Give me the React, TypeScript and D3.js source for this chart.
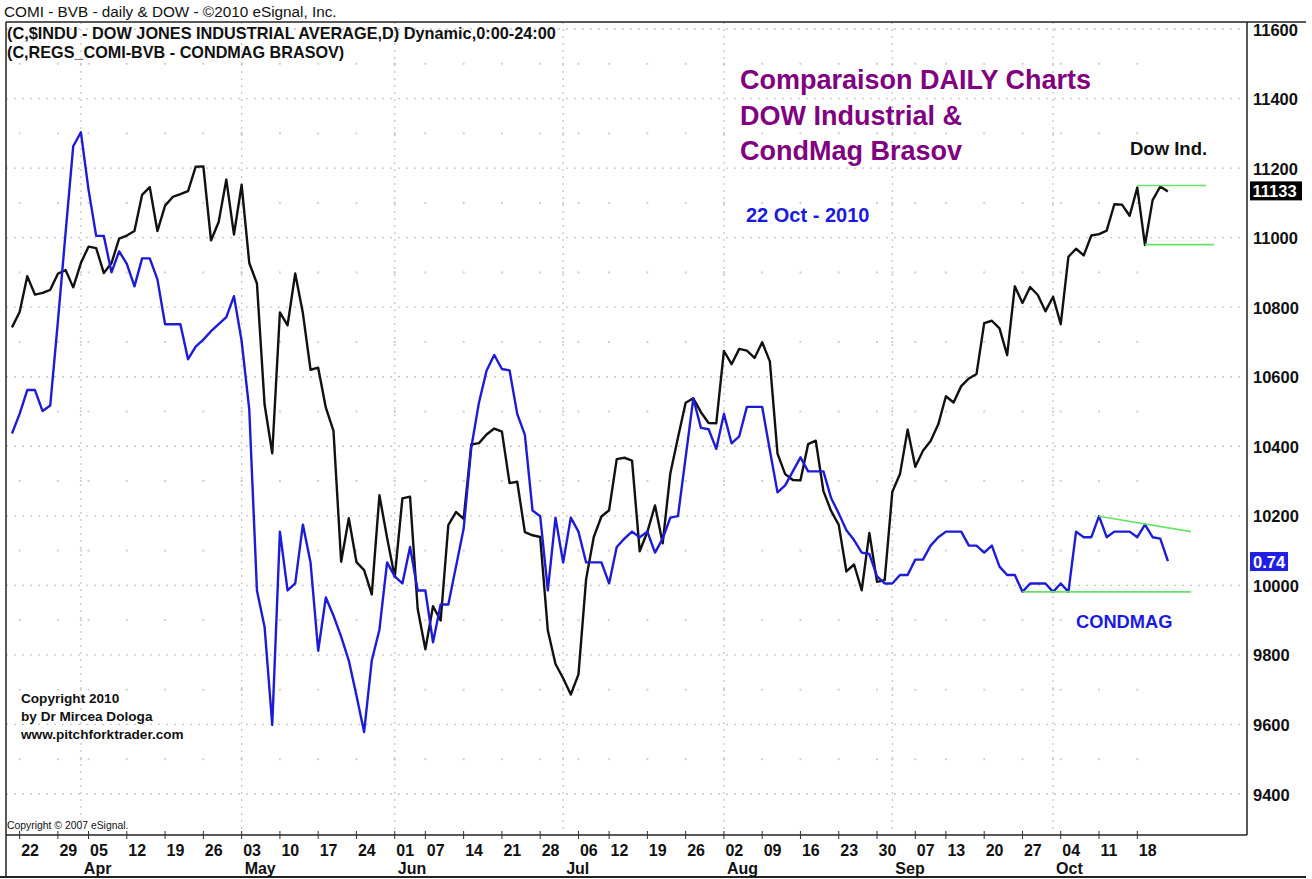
import React, { useEffect } from 'react';
import * as d3 from 'd3';

const W = 1312;
const H = 879;
const FONT = '"Liberation Sans", Arial, Helvetica, sans-serif';

// ---- calendar (NYSE trading days shown on the chart) ----
const FIRST_DAY = '2010-03-19';
const LAST_DAY = '2010-10-22';
const HOLIDAYS = ['2010-04-02', '2010-05-31', '2010-07-05', '2010-09-06'];

// ---- Dow Jones Industrial Average, daily close ----
const dowMar = [10742, 10786, 10889, 10836, 10841, 10850, 10896, 10907, 10857];
const dowApr = [10927, 10974, 10970, 10898, 10927, 10997, 11006, 11019, 11123, 11145, 11019, 11092, 11117, 11125, 11134, 11204, 11205, 10992, 11045, 11167, 11009];
const dowMay = [11152, 10927, 10868, 10520, 10380, 10785, 10748, 10897, 10783, 10620, 10626, 10511, 10444, 10068, 10193, 10067, 10044, 9974, 10259, 10137];
const dowJun = [10024, 10250, 10255, 9932, 9816, 9940, 9899, 10173, 10211, 10191, 10405, 10409, 10434, 10451, 10442, 10294, 10298, 10153, 10144, 10139, 9870, 9774];
const dowJul = [9733, 9686, 9744, 10018, 10139, 10198, 10216, 10363, 10367, 10359, 10098, 10154, 10230, 10121, 10322, 10425, 10525, 10538, 10498, 10467, 10466];
const dowAug = [10674, 10636, 10680, 10675, 10654, 10699, 10644, 10379, 10320, 10303, 10302, 10406, 10416, 10271, 10214, 10174, 10040, 10060, 9986, 10151, 10010, 10015];
const dowSep = [10269, 10320, 10448, 10341, 10387, 10415, 10463, 10544, 10526, 10573, 10595, 10608, 10754, 10761, 10739, 10662, 10860, 10812, 10858, 10835, 10788];
const dowOct = [10830, 10751, 10945, 10968, 10949, 11006, 11010, 11020, 11096, 11095, 11063, 11144, 10979, 11108, 11147, 11133];

// ---- CondMag Brasov (COMI, RON), daily close, overlaid ----
const cmMar = [0.831, 0.845, 0.862, 0.862, 0.847, 0.851, 0.911, 0.974, 1.036];
const cmApr = [1.046, 1.005, 0.972, 0.972, 0.946, 0.961, 0.952, 0.936, 0.956, 0.956, 0.941, 0.909, 0.909, 0.909, 0.884, 0.893, 0.898, 0.904, 0.909, 0.914, 0.929];
const cmMay = [0.897, 0.848, 0.719, 0.693, 0.623, 0.761, 0.719, 0.724, 0.766, 0.739, 0.676, 0.714, 0.701, 0.686, 0.669, 0.644, 0.618, 0.669, 0.691, 0.739];
const cmJun = [0.729, 0.724, 0.750, 0.719, 0.719, 0.682, 0.709, 0.709, 0.736, 0.763, 0.821, 0.853, 0.876, 0.887, 0.877, 0.876, 0.845, 0.830, 0.776, 0.772, 0.719, 0.771];
const cmJul = [0.739, 0.771, 0.761, 0.739, 0.739, 0.739, 0.724, 0.750, 0.756, 0.761, 0.757, 0.761, 0.746, 0.756, 0.771, 0.772, 0.814, 0.856, 0.835, 0.834, 0.820];
const cmAug = [0.845, 0.824, 0.829, 0.850, 0.850, 0.850, 0.819, 0.789, 0.794, 0.804, 0.814, 0.804, 0.804, 0.804, 0.785, 0.774, 0.762, 0.755, 0.746, 0.745, 0.729, 0.724];
const cmSep = [0.724, 0.730, 0.730, 0.741, 0.741, 0.751, 0.757, 0.761, 0.761, 0.761, 0.751, 0.751, 0.746, 0.751, 0.736, 0.730, 0.730, 0.718, 0.724, 0.724, 0.724];
const cmOct = [0.718, 0.724, 0.718, 0.761, 0.757, 0.757, 0.772, 0.757, 0.761, 0.761, 0.761, 0.757, 0.766, 0.757, 0.756, 0.740];

const dowClose = [...dowMar, ...dowApr, ...dowMay, ...dowJun, ...dowJul, ...dowAug, ...dowSep, ...dowOct];
const condmagClose = [...cmMar, ...cmApr, ...cmMay, ...cmJun, ...cmJul, ...cmAug, ...cmSep, ...cmOct];

// ---- axes ----
const yTicks = [9400, 9600, 9800, 10000, 10200, 10400, 10600, 10800, 11000, 11200, 11400, 11600];
const yMinor = [9500, 9700, 9900, 10100, 10300, 10500, 10700, 10900, 11100, 11300, 11500];
const weekTicks = [
  '2010-03-22', '2010-03-29', '2010-04-05', '2010-04-12', '2010-04-19', '2010-04-26',
  '2010-05-03', '2010-05-10', '2010-05-17', '2010-05-24', '2010-06-01', '2010-06-07',
  '2010-06-14', '2010-06-21', '2010-06-28', '2010-07-06', '2010-07-12', '2010-07-19',
  '2010-07-26', '2010-08-02', '2010-08-09', '2010-08-16', '2010-08-23', '2010-08-30',
  '2010-09-07', '2010-09-13', '2010-09-20', '2010-09-27', '2010-10-04', '2010-10-11', '2010-10-18',
];
const monthStarts = ['2010-04-01', '2010-05-03', '2010-06-01', '2010-07-01', '2010-08-02', '2010-09-01', '2010-10-01'];
const monthLabels = ['Apr', 'May', 'Jun', 'Jul', 'Aug', 'Sep', 'Oct'];

// ---- hand-drawn green trend lines (start date, length in bars, values) ----
const dowLevelStarts = ['2010-10-18', '2010-10-19'];
const dowLevelBars = [9, 9];
const dowLevelValues = [11150, 10980];
const cmTrendStarts = ['2010-10-11', '2010-09-27'];
const cmTrendBars = [12, 22];
const cmTrendFrom = [0.772, 0.718];
const cmTrendTo = [0.761, 0.718];

const fmt = d3.utcFormat('%Y-%m-%d');

function tradingDays(): string[] {
  const start = d3.utcParse('%Y-%m-%d')(FIRST_DAY) as Date;
  const end = d3.utcDay.offset(d3.utcParse('%Y-%m-%d')(LAST_DAY) as Date, 1);
  return d3.utcDay
    .range(start, end)
    .filter((d) => d.getUTCDay() !== 0 && d.getUTCDay() !== 6)
    .map(fmt)
    .filter((s) => !HOLIDAYS.includes(s));
}

export default function App() {
  useEffect(() => {
    document.body.style.margin = '0';
  }, []);

  const days = tradingDays();
  const idx = new Map(days.map((d, i) => [d, i] as [string, number]));

  const left = 6;
  const right = 1247;
  const top = 22;
  const plotBottom = 835;
  const bottom = 877;

  const x = d3.scaleLinear().domain([-0.78, 161.33]).range([left, right]);
  const y = d3.scaleLinear().domain([9400, 11600]).range([794, 29]);
  const cmToDow = d3.scaleLinear().domain([0.74, 0.84]).range([10070, 10473]);

  const dowLine = d3
    .line<number>()
    .x((_, i) => x(i))
    .y((v) => y(v));
  const cmLine = d3
    .line<number>()
    .x((_, i) => x(i))
    .y((v) => y(cmToDow(v)));

  const weekX = weekTicks.map((d) => x(idx.get(d) as number));
  const monthX = monthStarts.map((d) => x(idx.get(d) as number));

  const lastDow = dowClose[dowClose.length - 1];
  const lastCm = condmagClose[condmagClose.length - 1];
  const yLastDow = y(lastDow);
  const yLastCm = y(cmToDow(lastCm));

  const green = '#66e266';
  const blue = '#1c1cd6';

  return (
    <svg
      width={W}
      height={H}
      viewBox={`0 0 ${W} ${H}`}
      style={{ position: 'absolute', left: 0, top: 0, background: '#fff', fontFamily: FONT }}
    >
      <rect x={0} y={0} width={W} height={H} fill="#fff" />

      {/* major horizontal dotted gridlines */}
      {yTicks.map((v) => (
        <line key={'hg' + v} x1={left} x2={right} y1={y(v)} y2={y(v)} stroke="#c6c6c6" strokeWidth={1.3} strokeDasharray="2 6" />
      ))}
      {/* minor grid dots */}
      {yMinor.map((v) =>
        [...weekX, ...monthX].map((wx, j) => (
          <rect key={'md' + v + '-' + j} x={wx - 1} y={y(v) - 1} width={2} height={2} fill="#cfcfcf" />
        ))
      )}
      {/* month vertical dotted gridlines */}
      {monthX.map((mx, j) => (
        <line key={'vg' + j} x1={mx} x2={mx} y1={top} y2={plotBottom} stroke="#c6c6c6" strokeWidth={1.3} strokeDasharray="2 5" />
      ))}

      {/* header */}
      <text x={4} y={17} fontSize={15.3} fill="#111">COMI - BVB - daily &amp; DOW - ©2010 eSignal, Inc.</text>
      <text x={7} y={39} fontSize={16.3} fontWeight="bold" fill="#111">(C,$INDU - DOW JONES INDUSTRIAL AVERAGE,D) Dynamic,0:00-24:00</text>
      <text x={7} y={57.5} fontSize={16.2} fontWeight="bold" fill="#111">(C,REGS_COMI-BVB - CONDMAG BRASOV)</text>

      {/* series */}
      <path d={dowLine(dowClose) || ''} fill="none" stroke="#111" strokeWidth={2.4} strokeLinejoin="round" />
      <path d={cmLine(condmagClose) || ''} fill="none" stroke={blue} strokeWidth={2.4} strokeLinejoin="round" />

      {/* green trend lines */}
      {dowLevelStarts.map((s, j) => {
        const i0 = idx.get(s) as number;
        return (
          <line key={'dl' + j} x1={x(i0)} x2={x(i0 + dowLevelBars[j])} y1={y(dowLevelValues[j])} y2={y(dowLevelValues[j])} stroke={green} strokeWidth={1.6} />
        );
      })}
      {cmTrendStarts.map((s, j) => {
        const i0 = idx.get(s) as number;
        return (
          <line key={'cl' + j} x1={x(i0)} x2={x(i0 + cmTrendBars[j])} y1={y(cmToDow(cmTrendFrom[j]))} y2={y(cmToDow(cmTrendTo[j]))} stroke={green} strokeWidth={1.6} />
        );
      })}

      {/* annotations */}
      <g fontWeight="bold" fill="#800080" fontSize={27}>
        <text x={740} y={89}>Comparaison DAILY Charts</text>
        <text x={740} y={125}>DOW Industrial &amp;</text>
        <text x={740} y={160}>CondMag Brasov</text>
      </g>
      <text x={746} y={222} fontSize={20} fontWeight="bold" fill="#1a1ae0">22 Oct - 2010</text>
      <text x={1130} y={155} fontSize={18.5} fontWeight="bold" fill="#111">Dow Ind.</text>
      <text x={1076} y={628} fontSize={18.3} fontWeight="bold" fill="#1a1ae0">CONDMAG</text>

      <g fontWeight="bold" fill="#111" fontSize={13.6}>
        <text x={21} y={703}>Copyright 2010</text>
        <text x={21} y={721}>by Dr Mircea Dologa</text>
        <text x={21} y={738.5}>www.pitchforktrader.com</text>
      </g>
      <text x={7} y={829} fontSize={10.4} fill="#111">Copyright © 2007 eSignal.</text>

      {/* frame */}
      <line x1={left} x2={1306} y1={top} y2={top} stroke="#222" strokeWidth={1.5} />
      <line x1={left} x2={left} y1={top} y2={bottom} stroke="#222" strokeWidth={1.5} />
      <line x1={right} x2={right} y1={top} y2={plotBottom} stroke="#222" strokeWidth={1.5} />
      <line x1={left} x2={right} y1={plotBottom} y2={plotBottom} stroke="#222" strokeWidth={1.5} />
      <line x1={0} x2={1306} y1={bottom} y2={bottom} stroke="#222" strokeWidth={2} />

      {/* x axis */}
      {weekX.map((wx, j) => (
        <line key={'xt' + j} x1={wx} x2={wx} y1={plotBottom - 4} y2={plotBottom + 4} stroke="#333" strokeWidth={1} />
      ))}
      {weekTicks.map((d, j) => (
        <text key={'xl' + j} x={weekX[j] + 1.5} y={856} fontSize={16} fontWeight="bold" fill="#111">
          {d.slice(8, 10)}
        </text>
      ))}
      {monthLabels.map((m, j) => (
        <text key={'ml' + j} x={monthX[j] + 3} y={874} fontSize={16} fontWeight="bold" fill="#111">
          {m}
        </text>
      ))}

      {/* right axis */}
      {yTicks.map((v) => (
        <text key={'yl' + v} x={1253} y={y(v) + 6.5} fontSize={16.5} fontWeight="bold" fill="#111">
          {v}
        </text>
      ))}
      <rect x={1250} y={yLastDow - 10} width={52} height={19} fill="#000" />
      <text x={1252.5} y={yLastDow + 6} fontSize={16.5} fontWeight="bold" fill="#fff">
        {lastDow}
      </text>
      <rect x={1250} y={yLastCm - 9} width={38} height={19} fill="#1f1fe6" />
      <text x={1253} y={yLastCm + 7} fontSize={16.5} fontWeight="bold" fill="#fff">
        {lastCm.toFixed(2)}
      </text>
    </svg>
  );
}
